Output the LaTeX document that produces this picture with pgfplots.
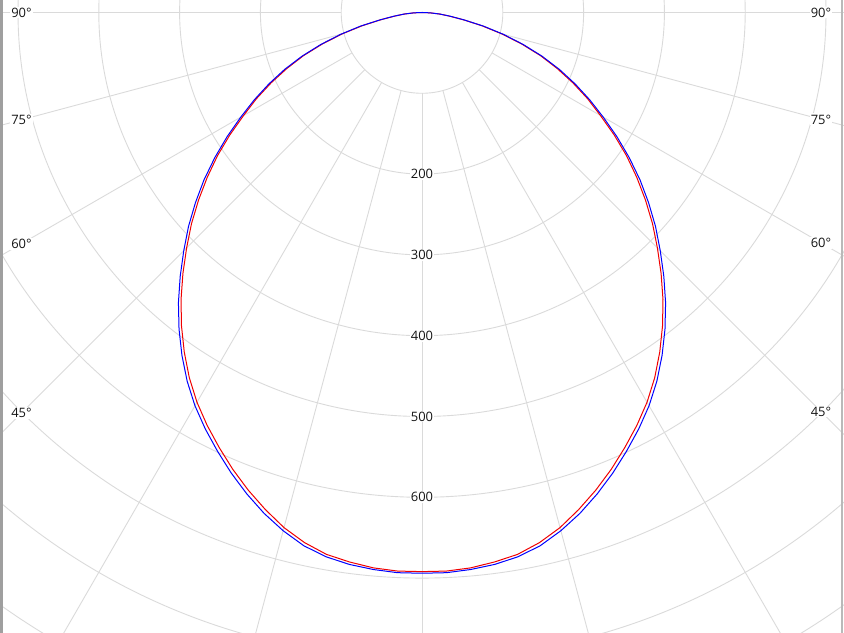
\documentclass[border=0pt]{standalone}
\usepackage{fontspec}
\setmainfont{Open Sans}
\usepackage{pgfplots}
\pgfplotsset{compat=1.18}
\definecolor{gridc}{RGB}{218,218,218}
\definecolor{cblue}{RGB}{0,0,255}
\definecolor{cred}{RGB}{240,0,0}
\definecolor{labc}{RGB}{20,20,20}
\tikzset{lab/.style={fill=white,inner sep=1.2bp,text=labc,font=\fontsize{13}{15}\selectfont}}
\begin{document}
\begin{tikzpicture}
\begin{axis}[width=844bp,height=633bp,scale only axis,hide axis,
  xmin=-522.28,xmax=522.28,ymin=-767.95,ymax=15.47,clip=true]
% grid circles
\draw[gridc,line width=0.9bp] (axis cs:0,0) circle[radius=100];
\draw[gridc,line width=0.9bp] (axis cs:0,0) circle[radius=200];
\draw[gridc,line width=0.9bp] (axis cs:0,0) circle[radius=300];
\draw[gridc,line width=0.9bp] (axis cs:0,0) circle[radius=400];
\draw[gridc,line width=0.9bp] (axis cs:0,0) circle[radius=500];
\draw[gridc,line width=0.9bp] (axis cs:0,0) circle[radius=600];
\draw[gridc,line width=0.9bp] (axis cs:0,0) circle[radius=700];
\draw[gridc,line width=0.9bp] (axis cs:0,0) circle[radius=800];
\draw[gridc,line width=0.9bp] (axis cs:0,0) circle[radius=900];
% spokes every 15 degrees
\pgfplotsinvokeforeach{180,195,210,225,240,255,270,285,300,315,330,345,360}{
  \addplot[gridc,line width=0.9bp,data cs=polar,forget plot] coordinates {(#1,100) (#1,1400)};
}
% radial labels
\node[lab] at (axis cs:0,-200) {200};
\node[lab] at (axis cs:0,-300) {300};
\node[lab] at (axis cs:0,-400) {400};
\node[lab] at (axis cs:0,-500) {500};
\node[lab] at (axis cs:0,-600) {600};
% angle labels
\node[lab] at (axis cs:-495.7,0) {90°};
\node[lab] at (axis cs:-495.7,-132.8) {75°};
\node[lab] at (axis cs:-495.7,-286.2) {60°};
\node[lab] at (axis cs:-495.7,-495.7) {45°};
\node[lab] at (axis cs:493.8,0) {90°};
\node[lab] at (axis cs:493.8,-132.3) {75°};
\node[lab] at (axis cs:493.8,-285.1) {60°};
\node[lab] at (axis cs:493.8,-493.8) {45°};
% red curve (C90-C270): (polar angle, cd)
\addplot[cred,line width=1bp,data cs=polar,forget plot] coordinates {
(180,0) (182.5,10) (185,22) (187.5,34) (190,52) (192.5,76) (195,102) (197.5,129)
(200,156) (202.5,181) (205,206) (207.5,231) (210,255) (212.5,282) (215,309) (217.5,335)
(220,361) (222.5,387) (225,412) (227.5,438) (230,464) (232.5,489) (235,513) (237.5,536)
(240,557) (242.5,576) (245,594) (247.5,612) (250,629) (252.5,645) (255,660) (257.5,672)
(260,681) (262.5,686) (265,690) (267.5,692) (270,692)
(272.5,692) (275,690) (277.5,686) (280,681) (282.5,672) (285,660) (287.5,645) (290,629)
(292.5,612) (295,594) (297.5,576) (300,557) (302.5,536) (305,513) (307.5,489) (310,464)
(312.5,438) (315,412) (317.5,387) (320,361) (322.5,335) (325,309) (327.5,282) (330,255)
(332.5,231) (335,206) (337.5,181) (340,156) (342.5,129) (345,102) (347.5,76) (350,52)
(352.5,34) (355,22) (357.5,10) (360,0)};
% blue curve (C0-C180)
\addplot[cblue,line width=1bp,data cs=polar,forget plot] coordinates {
(180,0) (182.5,10) (185,22) (187.5,35) (190,53) (192.5,78) (195,104) (197.5,131)
(200,158) (202.5,184) (205,209) (207.5,234) (210,259) (212.5,286) (215,313) (217.5,340)
(220,366) (222.5,392) (225,417) (227.5,443) (230,469) (232.5,494) (235,518) (237.5,541)
(240,562) (242.5,581) (245,599) (247.5,617) (250,634) (252.5,650) (255,664) (257.5,676)
(260,684) (262.5,689) (265,692) (267.5,694) (270,694)
(272.5,694) (275,692) (277.5,689) (280,684) (282.5,676) (285,664) (287.5,650) (290,634)
(292.5,617) (295,599) (297.5,581) (300,562) (302.5,541) (305,518) (307.5,494) (310,469)
(312.5,443) (315,417) (317.5,392) (320,366) (322.5,340) (325,313) (327.5,286) (330,259)
(332.5,234) (335,209) (337.5,184) (340,158) (342.5,131) (345,104) (347.5,78) (350,53)
(352.5,35) (355,22) (357.5,10) (360,0)};
% side borders
\draw[gray!75,line width=2.5bp] (rel axis cs:0.0015,0) -- (rel axis cs:0.0015,1);
\draw[gray!55,line width=2.5bp] (rel axis cs:0.9976,0) -- (rel axis cs:0.9976,1);
\end{axis}
\pgfresetboundingbox
\path[use as bounding box] (current axis.south west) rectangle (current axis.north east);
\end{tikzpicture}
\end{document}
